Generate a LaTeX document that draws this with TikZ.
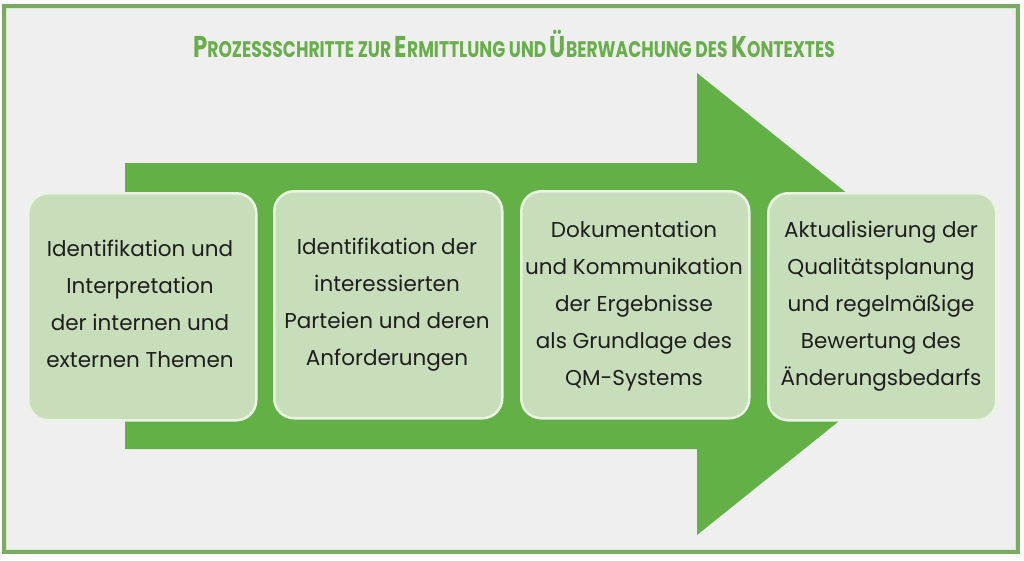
\documentclass[tikz,border=0pt]{standalone}
\usepackage{fontspec}
\setmainfont{Poppins}
\begin{document}
\begin{tikzpicture}[x=1pt,y=-1pt,
  stepbox/.style={draw=boxedge,line width=2.5pt,fill=boxfill,rounded corners=20pt,
     minimum width=228pt,minimum height=227pt,text width=220pt,align=center,
     font=\fontsize{21}{37}\selectfont,text=textdark,inner sep=0pt,anchor=north west},
  steptext/.style={text=textdark,align=center,font=\fontsize{21.5}{37}\selectfont},
  ]
\definecolor{bg}{HTML}{EFEFEF}
\definecolor{framegreen}{HTML}{7BAA62}
\definecolor{framelight}{HTML}{D4EBC6}
\definecolor{arrowgreen}{HTML}{62B046}
\definecolor{boxfill}{HTML}{C8DEBA}
\definecolor{boxedge}{HTML}{EAF4E3}
\definecolor{textdark}{HTML}{1E1E1E}
\definecolor{titlegreen}{HTML}{68AE4B}
\useasboundingbox (0,0) rectangle (1024,560);
\fill[white] (0,0) rectangle (1024,560);
\fill[bg] (3,5) rectangle (1019,553);
\draw[framelight,line width=1.5pt] (6.5,8.5) rectangle (1015.5,549.5);
\draw[framegreen,line width=3.5pt] (4,6) rectangle (1018,552);
% title
\node (title) at (514,44) {\color{titlegreen}\bfseries\scalebox{0.76}[1]{%
  \fontsize{30}{34}\selectfont P\fontsize{22.5}{26}\selectfont ROZESSSCHRITTE ZUR
  \fontsize{30}{34}\selectfont E\fontsize{22.5}{26}\selectfont RMITTLUNG UND
  \fontsize{30}{34}\selectfont Ü\fontsize{22.5}{26}\selectfont BERWACHUNG DES
  \fontsize{30}{34}\selectfont K\fontsize{22.5}{26}\selectfont ONTEXTES}};
% arrow
\fill[arrowgreen] (125,163) -- (697,163) -- (697,73) -- (985,304) -- (697,535) -- (697,449) -- (125,449) -- cycle;
% boxes
\node[stepbox] (s1) at (27,192) {};
\node[stepbox] (s2) at (273,190) {};
\node[stepbox] (s3) at (520,190) {};
\node[stepbox] (s4) at (767,192) {};
\node[steptext] (t1) at (140,304) {Identifikation und\\Interpretation\\der internen und\\externen Themen};
\node[steptext] (t2) at (387,305) {Identifikation der\\interessierten\\Parteien und deren\\Anforderungen};
\node[steptext] (t3) at (634,306) {Dokumentation\\und Kommunikation\\der Ergebnisse\\als Grundlage des\\QM-Systems};
\node[steptext] (t4) at (881,306) {Aktualisierung der\\Qualitätsplanung\\und regelmäßige\\Bewertung des\\Änderungsbedarfs};
\end{tikzpicture}
\end{document}
